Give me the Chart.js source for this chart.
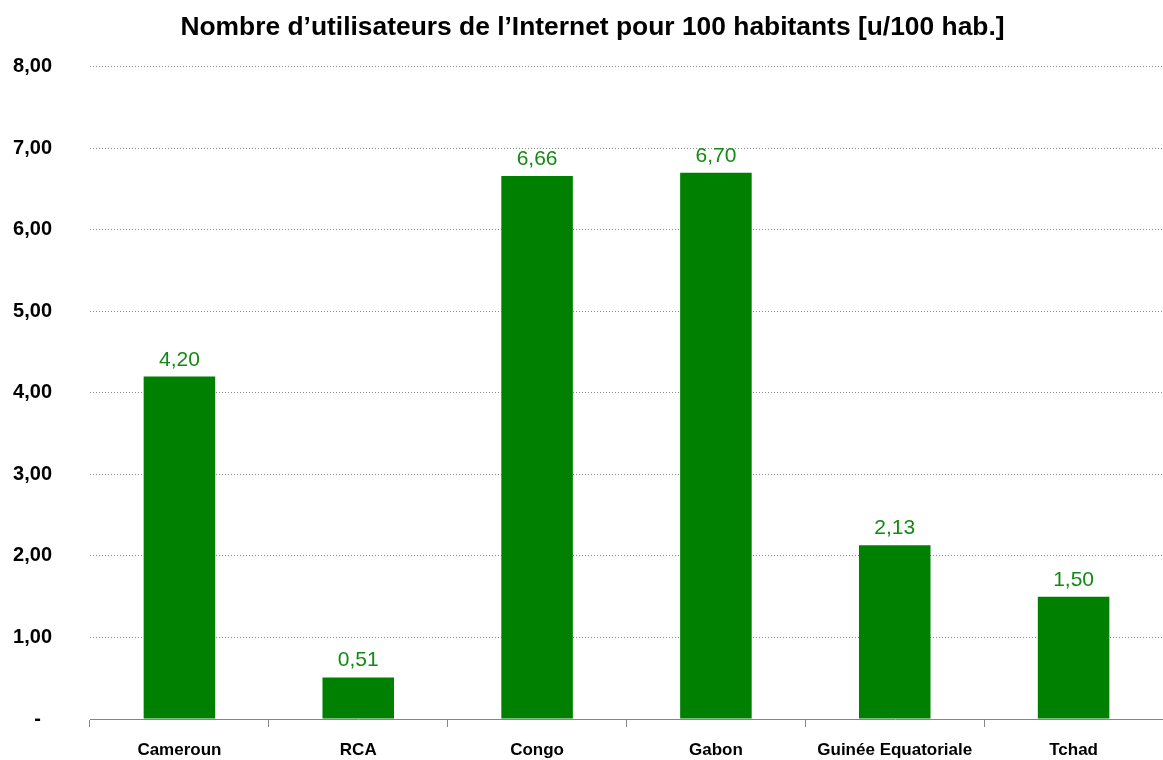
<!DOCTYPE html>
<html>
<head>
<meta charset="utf-8">
<script src="https://cdn.jsdelivr.net/npm/chart.js@4"></script>
<style>
  html, body { margin: 0; padding: 0; background: #fff; }
  #wrap { width: 1163px; height: 760px; }
</style>
</head>
<body>
<div id="wrap"><canvas id="graphe" width="1163" height="760"></canvas></div>
<script>
const pays = ['Cameroun', 'RCA', 'Congo', 'Gabon', 'Guinée Equatoriale', 'Tchad'];
const valeurs = [4.20, 0.51, 6.66, 6.70, 2.13, 1.50];
const titre = '\u00a0\u00a0\u00a0Nombre d\u2019utilisateurs de l\u2019Internet pour 100 habitants [u/100 hab.]';

const police = '"Liberation Sans", Arial, sans-serif';
const fmt = v => v.toFixed(2).replace('.', ',');

// etiquettes de valeur au-dessus des barres
const etiquettes = {
  id: 'etiquettes',
  afterDatasetsDraw(chart) {
    const c = chart.ctx;
    const meta = chart.getDatasetMeta(0);
    c.save();
    c.font = '21px ' + police;
    c.fillStyle = '#138a13';
    c.textAlign = 'center';
    c.textBaseline = 'alphabetic';
    meta.data.forEach((bar, i) => {
      c.fillText(fmt(valeurs[i]), bar.x, bar.y - 11);
    });
    c.restore();
  }
};

const ctx = document.getElementById('graphe').getContext('2d');

new Chart(ctx, {
  type: 'bar',
  data: {
    labels: pays,
    datasets: [{
      data: valeurs,
      backgroundColor: '#008000',
      barPercentage: 0.4,
      categoryPercentage: 1
    }]
  },
  options: {
    responsive: false,
    animation: false,
    layout: { padding: 0 },
    plugins: {
      legend: { display: false },
      tooltip: { enabled: false },
      title: {
        display: true,
        text: titre,
        color: '#000',
        font: { family: police, size: 26.4, weight: 'bold' },
        padding: { top: 12, bottom: 23 }
      }
    },
    scales: {
      y: {
        min: 0,
        max: 8,
        ticks: {
          stepSize: 1,
          color: '#000',
          padding: 38,
          font: { family: police, size: 20, weight: 'bold' },
          callback: v => v === 0 ? '-  ' : fmt(v)
        },
        grid: { color: '#8c8c8c', drawTicks: false },
        border: { display: false, dash: [1, 2] },
        afterFit(axis) {
          axis.width = 90;
          axis.paddingTop = 12;
          axis.paddingBottom = 12;
        }
      },
      x: {
        ticks: {
          color: '#000',
          padding: 13,
          font: { family: police, size: 17, weight: 'bold' }
        },
        grid: { drawOnChartArea: false, color: '#868686', tickLength: 8, offset: true },
        border: { display: true, color: '#868686', width: 1 },
        afterFit(axis) { axis.height = 41; }
      }
    }
  },
  plugins: [etiquettes]
});
</script>
</body>
</html>
